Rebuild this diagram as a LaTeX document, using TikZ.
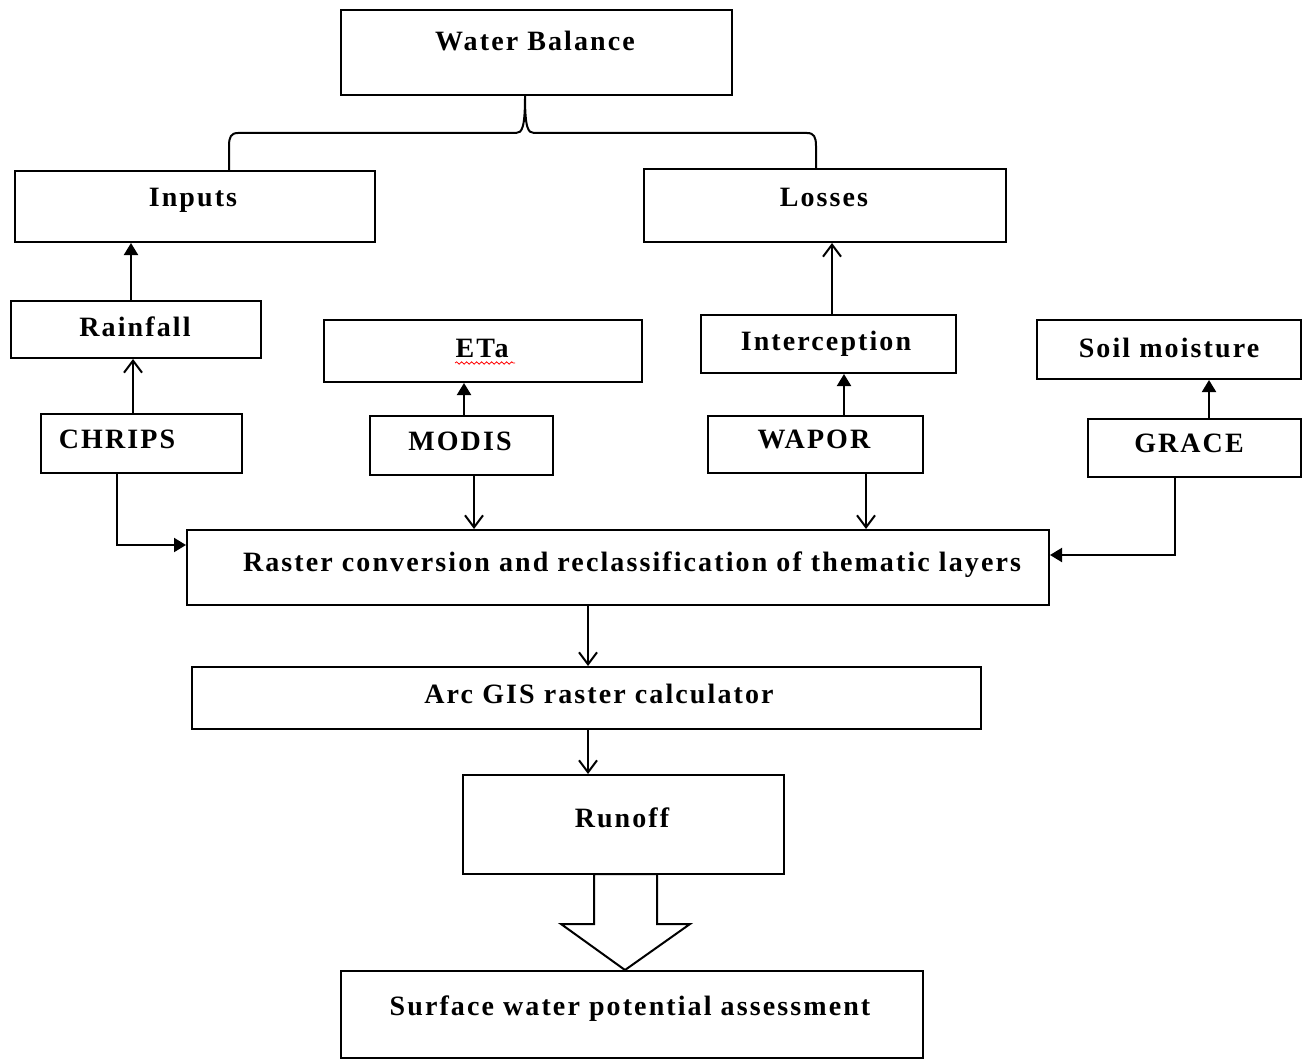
\documentclass[tikz,border=0pt]{standalone}
\usepackage{fontspec}
\setmainfont[LetterSpace=7.5]{Liberation Serif}
\usetikzlibrary{arrows.meta,fit,decorations.pathmorphing}
\begin{document}
\begin{tikzpicture}[x=0.5pt,y=-0.5pt,
  box/.style={draw,line width=1pt,inner sep=0pt},
  lbl/.style={anchor=base,inner sep=0pt,font=\fontsize{14}{16}\selectfont\bfseries},
  conn/.style={line width=1pt},
  tipF/.style={conn,-{Triangle[length=6pt,width=7pt]}},
  tipO/.style={conn,-{Straight Barb[length=6pt,width=9pt]}}]
\useasboundingbox (0,0) rectangle (1305,1059);
% boxes
\node[box,fit={(341,10) (732,95)}] (wb) {};
\node[box,fit={(15,171) (375,242)}] (inp) {};
\node[box,fit={(644,169) (1006,242)}] (los) {};
\node[box,fit={(11,301) (261,358)}] (rain) {};
\node[box,fit={(324,320) (642,382)}] (eta) {};
\node[box,fit={(701,315) (956,373)}] (int) {};
\node[box,fit={(1037,320) (1301,379)}] (soil) {};
\node[box,fit={(41,414) (242,473)}] (chr) {};
\node[box,fit={(370,416) (553,475)}] (mod) {};
\node[box,fit={(708,416) (923,473)}] (wap) {};
\node[box,fit={(1088,419) (1301,477)}] (gra) {};
\node[box,fit={(187,530) (1049,605)}] (ras) {};
\node[box,fit={(192,667) (981,729)}] (arc) {};
\node[box,fit={(463,775) (784,874)}] (run) {};
\node[box,fit={(341,971) (923,1058)}] (sur) {};
% labels
\node[lbl] (wbt) at (535,51) {Water Balance};
\node[lbl] (inpt) at (193,206) {Inputs};
\node[lbl] (lost) at (824,206) {Losses};
\node[lbl] (raint) at (135,336) {Rainfall};
\node[lbl] (etat) at (482,357) {ETa};
\node[lbl] (intt) at (826,350) {Interception};
\node[lbl] (soilt) at (1169,357) {Soil moisture};
\node[lbl] (chrt) at (117,448) {CHRIPS};
\node[lbl] (modt) at (460,450) {MODIS};
\node[lbl] (wapt) at (814,448) {WAPOR};
\node[lbl] (grat) at (1189,452) {GRACE};
\node[lbl] (rast) at (632,571) {Raster conversion and reclassification of thematic layers};
\node[lbl] (arct) at (599,703) {Arc GIS raster calculator};
\node[lbl] (runt) at (622,827) {Runoff};
\node[lbl] (surt) at (630,1015) {Surface water potential assessment};
% spell-check squiggle under ETa
\draw[red,line width=0.4pt,decorate,decoration={snake,amplitude=0.6pt,segment length=2.5pt}]
  (etat.base west) ++(0,6) -- ++(60,0);
% x positions of connectors
\coordinate (xa) at (131,0);
\coordinate (xb) at (133,0);
\coordinate (xc) at (464,0);
\coordinate (xd) at (474,0);
\coordinate (xe) at (844,0);
\coordinate (xf) at (832,0);
\coordinate (xg) at (866,0);
\coordinate (xh) at (1209,0);
\coordinate (xi) at (1175,0);
\coordinate (xj) at (117,0);
\coordinate (xk) at (588,0);
\coordinate (yl) at (0,545);
\coordinate (ym) at (0,555);
% brace
\coordinate (bl) at (229,0);
\coordinate (br) at (816,0);
\coordinate (bm) at (525,0);
\draw[line width=1pt] (inp.north -| bl) -- (229,146) .. controls (229,137) and (231,133) .. (238,133)
  -- (516,133) .. controls (522,133) and (525,128) .. (wb.south -| bm)
  .. controls (525,128) and (528,133) .. (534,133)
  -- (807,133) .. controls (814,133) and (816,137) .. (816,146) -- (los.north -| br);
% connectors
\draw[tipF] (rain.north -| xa) -- (inp.south -| xa);
\draw[tipO] (chr.north -| xb) -- (rain.south -| xb);
\draw[tipF] (mod.north -| xc) -- (eta.south -| xc);
\draw[tipO] (mod.south -| xd) -- (ras.north -| xd);
\draw[tipF] (wap.north -| xe) -- (int.south -| xe);
\draw[tipO] (int.north -| xf) -- (los.south -| xf);
\draw[tipO] (wap.south -| xg) -- (ras.north -| xg);
\draw[tipF] (gra.north -| xh) -- (soil.south -| xh);
\draw[tipF] (gra.south -| xi) |- (ras.east |- ym);
\draw[tipF] (chr.south -| xj) |- (ras.west |- yl);
\draw[tipO] (ras.south -| xk) -- (arc.north -| xk);
\draw[tipO] (arc.south -| xk) -- (run.north -| xk);
% block arrow
\draw[line width=1pt,fill=white,line join=miter] (594,874) -- (594,924) -- (561,924) -- (sur.north -| 625,0)
  -- (690,924) -- (657,924) -- (657,874) -- cycle;
\end{tikzpicture}
\end{document}
